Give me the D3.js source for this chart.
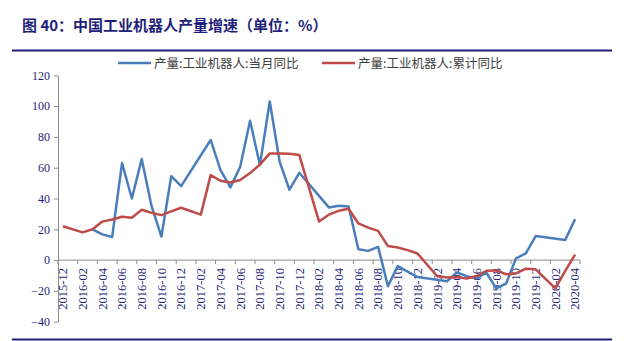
<!DOCTYPE html>
<html><head><meta charset="utf-8">
<script src="https://cdn.jsdelivr.net/npm/d3@7/dist/d3.min.js"></script>
<style>
html,body{margin:0;padding:0;background:#fff;}
svg{display:block;}
</style></head>
<body>
<svg id="c" width="640" height="341"></svg>
<script>
const months = ["2015-12","2016-01","2016-02","2016-03","2016-04","2016-05","2016-06","2016-07","2016-08","2016-09","2016-10","2016-11","2016-12",
"2017-01","2017-02","2017-03","2017-04","2017-05","2017-06","2017-07","2017-08","2017-09","2017-10","2017-11","2017-12",
"2018-01","2018-02","2018-03","2018-04","2018-05","2018-06","2018-07","2018-08","2018-09","2018-10","2018-11","2018-12",
"2019-01","2019-02","2019-03","2019-04","2019-05","2019-06","2019-07","2019-08","2019-09","2019-10","2019-11","2019-12",
"2020-01","2020-02","2020-03","2020-04"];
// 当月同比
const monthly = [null,null,null,20,16.7,15,63,40,65.6,35,15.3,54.5,48,
null,null,78,58.4,47.2,60.6,90.5,61.7,103,64,45.7,56.7,
null,null,34.2,35.3,34.8,7,6,8.6,-16.9,-3.9,-7.5,-11,
null,null,-13.7,-8,-10.4,-11.9,-8.2,-18.4,-15.2,1.1,4.3,15.6,
null,null,13,26.6];
// 累计同比
const cumulative = [22,null,18,20,25,26.4,28.1,27.5,32.7,30.7,29.2,31.6,34,
null,29.5,55.2,51.5,50.4,52,56.5,62,69.3,69.3,69,68.2,
null,25.1,29.5,32,33.3,23.8,21.1,19,9.1,8.2,6.5,4.3,
null,-10.5,-11.3,-11,-12,-10.5,-6.9,-6.7,-9.2,-8.7,-5.6,-6,
null,-18.4,-7,3.5];
const yTicks = [-40,-20,0,20,40,60,80,100,120];
const seriesNames = ["产量:工业机器人:当月同比","产量:工业机器人:累计同比"];
const colors = ["#4a7ebb","#be4b48"];
const titleText = "图 40：中国工业机器人产量增速（单位：%）";

const svg = d3.select("#c");
const navy = "#1f1f7a";
const axisColor = "#8c8c8c";

// title & rules
svg.append("text").attr("x",22).attr("y",31).attr("fill",navy)
  .attr("font-family","'Noto Sans CJK SC',sans-serif").attr("font-weight","bold").attr("font-size",15)
  .text(titleText);
svg.append("line").attr("x1",12).attr("x2",612).attr("y1",50.5).attr("y2",50.5).attr("stroke",navy).attr("stroke-width",2);
svg.append("line").attr("x1",12).attr("x2",612).attr("y1",339.5).attr("y2",339.5).attr("stroke",navy).attr("stroke-width",2);

const x = d3.scaleBand().domain(months).range([58,580]).paddingInner(0).paddingOuter(0);
const bw = x.bandwidth();
const y = d3.scaleLinear().domain([-40,120]).range([321.7,75.3]);
const cx = m => x(m)+bw/2;

// y axis
const yAxis = d3.axisLeft(y).tickValues(yTicks).tickSize(4).tickSizeOuter(0);
const gy = svg.append("g").attr("transform","translate(58,0)").call(yAxis);
gy.select(".domain").attr("stroke",axisColor);
gy.selectAll(".tick line").attr("stroke",axisColor);
gy.selectAll(".tick text").attr("fill",navy).attr("font-family","'Liberation Serif',serif").attr("font-size",12).attr("x",-8);

// x axis at zero
const y0 = y(0);
svg.append("line").attr("x1",58).attr("x2",580).attr("y1",y0).attr("y2",y0).attr("stroke",axisColor);
const tickMonths = months.filter((m,i)=>i%2===0);
svg.selectAll(".xt").data(tickMonths).join("line").attr("class","xt")
  .attr("x1",d=>x(d)).attr("x2",d=>x(d)).attr("y1",y0).attr("y2",y0+4).attr("stroke",axisColor);
svg.append("line").attr("x1",580).attr("x2",580).attr("y1",y0).attr("y2",y0+4).attr("stroke",axisColor);
svg.selectAll(".xl").data(tickMonths).join("text").attr("class","xl")
  .attr("transform",d=>`translate(${cx(d)},${y0+8}) rotate(-90)`)
  .attr("text-anchor","end").attr("dy","0.35em")
  .attr("fill",navy).attr("font-family","'Liberation Serif',serif").attr("font-size",12.5)
  .text(d=>d);

// lines
const data = [monthly, cumulative];
const line = d3.line().x(d=>cx(d.m)).y(d=>y(d.v));
data.forEach((vals,k)=>{
  const pts = months.map((m,i)=>({m, v: vals[i]})).filter(d=>d.v!==null);
  svg.append("path").datum(pts).attr("d",line).attr("fill","none")
    .attr("stroke",colors[k]).attr("stroke-width",2.5).attr("stroke-linejoin","round");
});

// legend
const legX = [118,322];
seriesNames.forEach((n,k)=>{
  svg.append("line").attr("x1",legX[k]).attr("x2",legX[k]+33).attr("y1",63).attr("y2",63)
    .attr("stroke",colors[k]).attr("stroke-width",2.5);
  svg.append("text").attr("x",legX[k]+36).attr("y",67.5).attr("fill","#404040")
    .attr("font-family","'Noto Sans CJK SC',sans-serif").attr("font-size",12.5).text(n);
});
</script>
</body></html>
